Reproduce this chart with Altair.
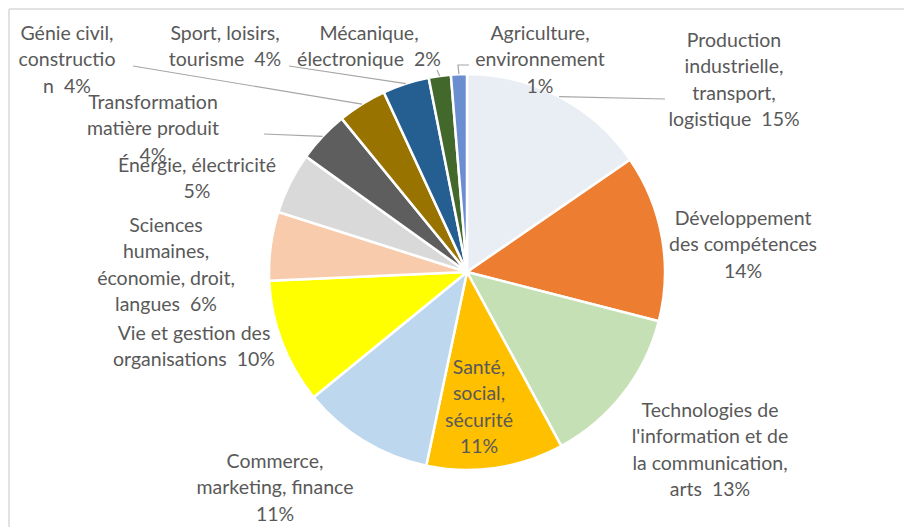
import math
import altair as alt
import pandas as pd

# ---------------- data ----------------
categories = [
    "Production industrielle, transport, logistique",
    "Développement des compétences",
    "Technologies de l'information et de la communication, arts",
    "Santé, social, sécurité",
    "Commerce, marketing, finance",
    "Vie et gestion des organisations",
    "Sciences humaines, économie, droit, langues",
    "Énergie, électricité",
    "Transformation matière produit",
    "Génie civil, construction",
    "Sport, loisirs, tourisme",
    "Mécanique, électronique",
    "Agriculture, environnement",
]
shares = [15.4, 13.6, 13.1, 11.2, 10.8, 10.2, 5.6, 5.0, 4.2, 4.0, 3.8, 1.8, 1.3]
NB = "\u00a0 "  # double space as in the original labels
label_lines = [
    ["Production", "industrielle,", "transport,", "logistique" + NB + "{p}"],
    ["Développement", "des compétences", "{p}"],
    ["Technologies de", "l'information et de", "la communication,", "arts" + NB + "{p}"],
    ["Santé,", "social,", "sécurité", "{p}"],
    ["Commerce,", "marketing, finance", "{p}"],
    ["Vie et gestion des", "organisations" + NB + "{p}"],
    ["Sciences", "humaines,", "économie, droit,", "langues" + NB + "{p}"],
    ["Énergie, électricité", "{p}"],
    ["Transformation", "matière produit", "{p}"],
    ["Génie civil,", "constructio", "n" + NB + "{p}"],
    ["Sport, loisirs,", "tourisme" + NB + "{p}"],
    ["Mécanique,", "électronique" + NB + "{p}"],
    ["Agriculture,", "environnement", "{p}"],
]
colors = [
    "#E9EDF4", "#ED7D31", "#C5E0B4", "#FFC000", "#BDD7EE", "#FFFF00",
    "#F8CBAD", "#D9D9D9", "#5E5E5E", "#997300", "#255E91", "#43682B", "#6A8ED0",
]

# ---------------- layout ----------------
W, H = 896, 519
CX, CY, R = 459, 264, 198          # pie centre / radius (chart coords)
FONT_SIZE, LINE_H = 19.5, 26.5
# label block anchors: centre x, centre y of first line (chart coords)
label_anchor = [
    (726, 32), (735, 210), (702, 402), (471, 359), (267, 453), (186, 325),
    (158, 217), (189, 157), (145, 94), (59, 25), (217, 25), (361, 25), (532, 25),
]
# leader lines: label-side points (chart coords), the slice end is computed
leaders = {
    0: [(657, 91)],
    8: [(256, 126)],
    9: [(125, 58)],
    10: [(281, 58)],
    11: [(429, 62)],
    12: [(461, 57), (450, 57)],
}

# ---------------- build tables ----------------
rows = []
lab_rows = []
line_rows = []
cum = 0.0
for i, (c, s) in enumerate(zip(categories, shares)):
    rows.append({"idx": i, "cat": c, "share": s})
    mid = (cum + s / 2) / 100 * 2 * math.pi
    cum += s
    pct = f"{round(s)}%"
    text = "\n".join(l.replace("{p}", pct) for l in label_lines[i])
    ax, ay = label_anchor[i]
    lab_rows.append({"cat": c, "x": ax, "y": ay - 8.5, "text": text})
    if i in leaders:
        pts = list(leaders[i]) + [(CX + R * math.sin(mid), CY - R * math.cos(mid))]
        for k, (px, py) in enumerate(pts):
            line_rows.append({"cat": c, "seq": k, "x": px, "y": py})

df = pd.DataFrame(rows)
df_lab = pd.DataFrame(lab_rows)
df_line = pd.DataFrame(line_rows)

pie = alt.Chart(df).mark_arc(outerRadius=R, stroke="white", strokeWidth=2.5).encode(
    theta=alt.Theta("share:Q", stack=True),
    order=alt.Order("idx:Q"),
    color=alt.Color("cat:N", scale=alt.Scale(domain=categories, range=colors), legend=None),
    x=alt.value(CX),
    y=alt.value(CY),
)

leader = alt.Chart(df_line).mark_line(color="#A6A6A6", strokeWidth=1.2).encode(
    x=alt.X("x:Q", scale=None),
    y=alt.Y("y:Q", scale=None),
    detail="cat:N",
    order="seq:Q",
)

labels = alt.Chart(df_lab).mark_text(
    align="center", baseline="top", lineBreak="\n", fontSize=FONT_SIZE,
    lineHeight=LINE_H, font="Lato", color="#595959",
).encode(
    x=alt.X("x:Q", scale=None),
    y=alt.Y("y:Q", scale=None),
    text="text:N",
)

# chart-area border (left and top edges visible in the original)
border_left = alt.Chart(df.head(1)).mark_rule(color="#D9D9D9", strokeWidth=1.5).encode(
    x=alt.value(1), y=alt.value(1), y2=alt.value(H)
)
border_top = alt.Chart(df.head(1)).mark_rule(color="#D9D9D9", strokeWidth=1.5).encode(
    x=alt.value(1), x2=alt.value(W), y=alt.value(1)
)

chart = alt.layer(border_left, border_top, pie, leader, labels).properties(
    width=W, height=H, padding=0, autosize=alt.AutoSizeParams(type="none"),
).configure_view(strokeWidth=0)

chart.save("out.html", embed_options={"renderer": "svg", "actions": False})
